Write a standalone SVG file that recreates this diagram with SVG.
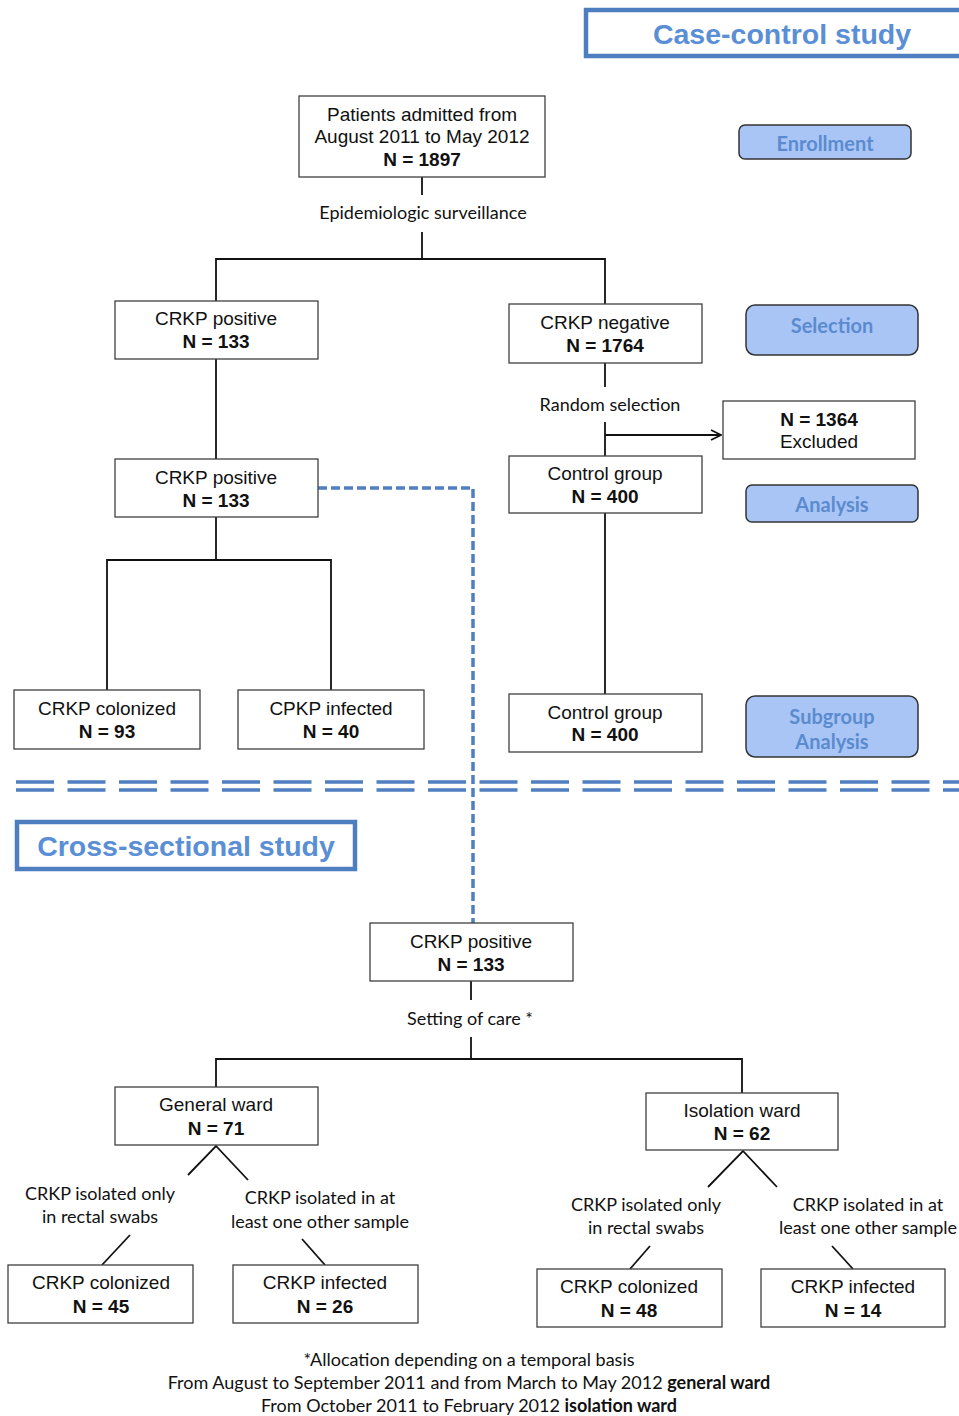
<svg xmlns="http://www.w3.org/2000/svg" width="959" height="1416" viewBox="0 0 959 1416">
<defs>
<style>
.box{fill:#fff;stroke:#404040;stroke-width:1.3}
.pill{fill:#a9c5f6;stroke:#333;stroke-width:1.5}
.t{font-family:"Liberation Sans",Arial,sans-serif;font-size:19px;fill:#111;text-anchor:middle}
.b{font-weight:bold}
.lbl{font-family:Lato,"Open Sans",sans-serif;font-size:18px;fill:#111;text-anchor:middle}
.pt{font-family:Lato,"Open Sans",sans-serif;font-size:20px;font-weight:bold;fill:#5b8bcf;text-anchor:middle}
.title{font-family:"Liberation Sans",Arial,sans-serif;font-size:28.5px;font-weight:bold;fill:#5a8fd6;text-anchor:middle}
.tbox{fill:#fff;stroke:#4d7ebf;stroke-width:4.5}
.ln{fill:none;stroke:#111;stroke-width:1.8}
.dash{fill:none;stroke:#4f7fc0;stroke-width:3.5;stroke-dasharray:9 4}
.sep{fill:none;stroke:#4f7fc0;stroke-width:3.6;stroke-dasharray:38 13.5}
</style>
<marker id="arr" viewBox="0 0 12 12" refX="11" refY="6" markerWidth="12" markerHeight="12" markerUnits="userSpaceOnUse" orient="auto">
<path d="M1,1 L11,6 L1,11" fill="none" stroke="#111" stroke-width="1.6"/>
</marker>
</defs>
<rect width="959" height="1416" fill="#fff"/>

<g id="separator">
<line class="sep" x1="16" y1="782" x2="959" y2="782"/>
<line class="sep" x1="16" y1="790" x2="959" y2="790"/>
</g>

<g id="connectors">
<line class="ln" x1="422" y1="177" x2="422" y2="195"/>
<line class="ln" x1="422" y1="232" x2="422" y2="259"/>
<polyline class="ln" points="216,301 216,259 605,259 605,304"/>
<line class="ln" x1="216" y1="359" x2="216" y2="459"/>
<line class="ln" x1="605" y1="363" x2="605" y2="387"/>
<line class="ln" x1="605" y1="422" x2="605" y2="456"/>
<line class="ln" x1="605" y1="435" x2="721" y2="435" marker-end="url(#arr)"/>
<line class="ln" x1="605" y1="513" x2="605" y2="694"/>
<line class="ln" x1="216" y1="517" x2="216" y2="560"/>
<polyline class="ln" points="107,690 107,560 331,560 331,690"/>
<polyline class="dash" points="318,488 473,488 473,923"/>
<line class="ln" x1="471" y1="981" x2="471" y2="1000"/>
<line class="ln" x1="471" y1="1037" x2="471" y2="1059"/>
<polyline class="ln" points="216,1087 216,1059 742,1059 742,1093"/>
<polyline class="ln" points="188,1175 216,1146 248,1180"/>
<line class="ln" x1="130" y1="1235" x2="102" y2="1265"/>
<line class="ln" x1="302" y1="1239" x2="325" y2="1265"/>
<polyline class="ln" points="708,1187 743,1151 777,1187"/>
<line class="ln" x1="650" y1="1246" x2="630" y2="1269"/>
<line class="ln" x1="832" y1="1246" x2="853" y2="1269"/>
</g>

<g id="title-case-control">
<rect class="tbox" x="586" y="10" width="380" height="46"/>
<text class="title" x="782" y="44">Case-control study</text>
</g>
<g id="enrollment">
<rect class="pill" x="739" y="125" width="172" height="34" rx="6"/>
<text class="pt" x="825" y="151">Enrollment</text>
</g>
<g id="patients">
<rect class="box" x="299" y="96" width="246" height="81"/>
<text class="t" x="422" y="121">Patients admitted from</text>
<text class="t" x="422" y="143">August 2011 to May 2012</text>
<text class="t b" x="422" y="166">N = 1897</text>
</g>
<g id="lbl-epi"><text class="lbl" x="423" y="219">Epidemiologic surveillance</text></g>

<g id="crkp-pos-1">
<rect class="box" x="115" y="301" width="203" height="58"/>
<text class="t" x="216" y="325">CRKP positive</text>
<text class="t b" x="216" y="348">N = 133</text>
</g>
<g id="crkp-neg">
<rect class="box" x="509" y="304" width="193" height="59"/>
<text class="t" x="605" y="329">CRKP negative</text>
<text class="t b" x="605" y="352">N = 1764</text>
</g>
<g id="selection">
<rect class="pill" x="746" y="305" width="172" height="50" rx="9"/>
<text class="pt" x="832" y="333">Selection</text>
</g>
<g id="lbl-random"><text class="lbl" x="610" y="411">Random selection</text></g>
<g id="excluded">
<rect class="box" x="723" y="401" width="192" height="58"/>
<text class="t b" x="819" y="426">N = 1364</text>
<text class="t" x="819" y="448">Excluded</text>
</g>
<g id="crkp-pos-2">
<rect class="box" x="115" y="459" width="203" height="58"/>
<text class="t" x="216" y="484">CRKP positive</text>
<text class="t b" x="216" y="507">N = 133</text>
</g>
<g id="control-1">
<rect class="box" x="509" y="456" width="193" height="57"/>
<text class="t" x="605" y="480">Control group</text>
<text class="t b" x="605" y="503">N = 400</text>
</g>
<g id="analysis">
<rect class="pill" x="746" y="485" width="172" height="37" rx="6"/>
<text class="pt" x="832" y="512">Analysis</text>
</g>
<g id="colonized-1">
<rect class="box" x="14" y="690" width="186" height="59"/>
<text class="t" x="107" y="715">CRKP colonized</text>
<text class="t b" x="107" y="738">N = 93</text>
</g>
<g id="infected-1">
<rect class="box" x="238" y="690" width="186" height="59"/>
<text class="t" x="331" y="715">CPKP infected</text>
<text class="t b" x="331" y="738">N = 40</text>
</g>
<g id="control-2">
<rect class="box" x="509" y="694" width="193" height="58"/>
<text class="t" x="605" y="719">Control group</text>
<text class="t b" x="605" y="741">N = 400</text>
</g>
<g id="subgroup">
<rect class="pill" x="746" y="696" width="172" height="61" rx="9"/>
<text class="pt" x="832" y="724">Subgroup</text>
<text class="pt" x="832" y="749">Analysis</text>
</g>

<g id="title-cross">
<rect class="tbox" x="17" y="822" width="338" height="47"/>
<text class="title" x="186" y="856">Cross-sectional study</text>
</g>
<g id="crkp-pos-3">
<rect class="box" x="370" y="923" width="203" height="58"/>
<text class="t" x="471" y="948">CRKP positive</text>
<text class="t b" x="471" y="971">N = 133</text>
</g>
<g id="lbl-setting"><text class="lbl" x="470" y="1025">Setting of care *</text></g>
<g id="general-ward">
<rect class="box" x="115" y="1087" width="203" height="58"/>
<text class="t" x="216" y="1111">General ward</text>
<text class="t b" x="216" y="1135">N = 71</text>
</g>
<g id="isolation-ward">
<rect class="box" x="646" y="1093" width="192" height="57"/>
<text class="t" x="742" y="1117">Isolation ward</text>
<text class="t b" x="742" y="1140">N = 62</text>
</g>
<g id="lbl-gw-only">
<text class="lbl" x="100" y="1200">CRKP isolated only</text>
<text class="lbl" x="100" y="1223">in rectal swabs</text>
</g>
<g id="lbl-gw-other">
<text class="lbl" x="320" y="1204">CRKP isolated in at</text>
<text class="lbl" x="320" y="1228">least one other sample</text>
</g>
<g id="lbl-iw-only">
<text class="lbl" x="646" y="1211">CRKP isolated only</text>
<text class="lbl" x="646" y="1234">in rectal swabs</text>
</g>
<g id="lbl-iw-other">
<text class="lbl" x="868" y="1211">CRKP isolated in at</text>
<text class="lbl" x="868" y="1234">least one other sample</text>
</g>
<g id="colonized-gw">
<rect class="box" x="8" y="1265" width="185" height="58"/>
<text class="t" x="101" y="1289">CRKP colonized</text>
<text class="t b" x="101" y="1313">N = 45</text>
</g>
<g id="infected-gw">
<rect class="box" x="233" y="1265" width="185" height="58"/>
<text class="t" x="325" y="1289">CRKP infected</text>
<text class="t b" x="325" y="1313">N = 26</text>
</g>
<g id="colonized-iw">
<rect class="box" x="537" y="1269" width="185" height="58"/>
<text class="t" x="629" y="1293">CRKP colonized</text>
<text class="t b" x="629" y="1317">N = 48</text>
</g>
<g id="infected-iw">
<rect class="box" x="761" y="1269" width="184" height="58"/>
<text class="t" x="853" y="1293">CRKP infected</text>
<text class="t b" x="853" y="1317">N = 14</text>
</g>

<g id="footnote">
<text class="lbl" x="469" y="1366">*Allocation depending on a temporal basis</text>
<text class="lbl" x="469" y="1389">From August to September 2011 and from March to May 2012 <tspan font-weight="bold">general ward</tspan></text>
<text class="lbl" x="469" y="1412">From October 2011 to February 2012 <tspan font-weight="bold">isolation ward</tspan></text>
</g>
</svg>
